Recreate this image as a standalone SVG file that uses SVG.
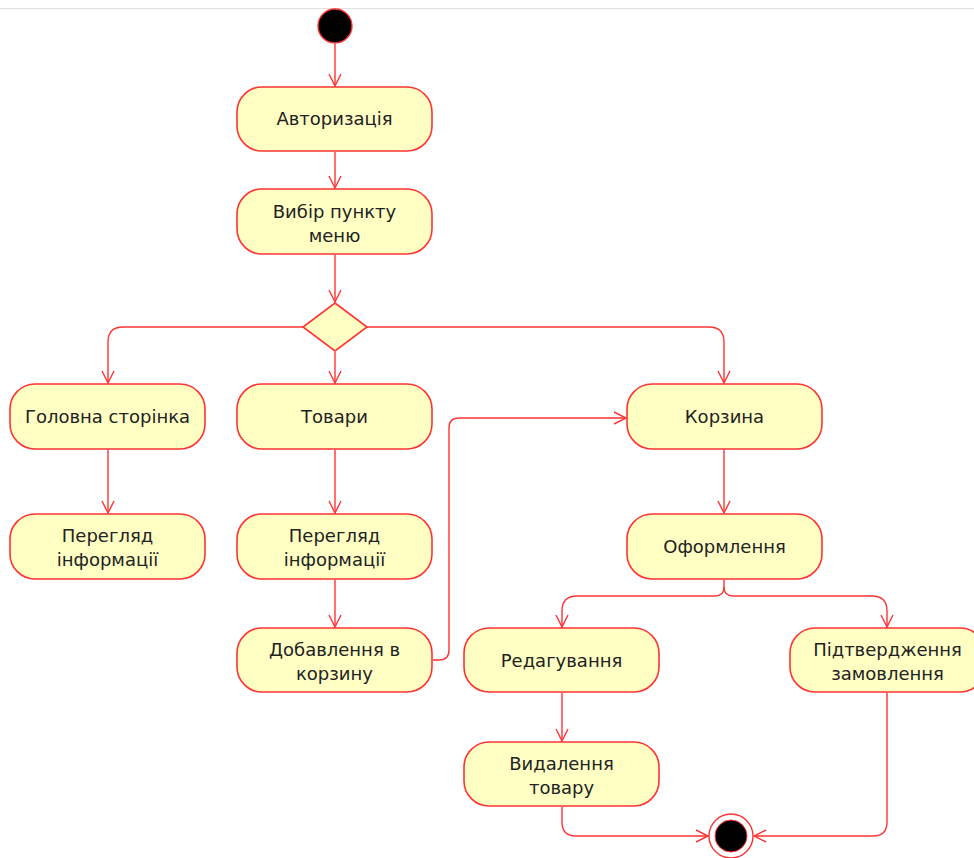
<svg xmlns="http://www.w3.org/2000/svg" width="974" height="858" viewBox="0 0 974 858">
<defs>
<style>
.n{fill:#ffffc4;stroke:#ff3333;stroke-width:1.6}
.t{font-family:"DejaVu Sans","Noto Sans",sans-serif;font-size:18px;fill:#222;text-anchor:middle}
.c{fill:none;stroke:#ff3333;stroke-width:1.4}
</style>
<marker id="a" markerWidth="16" markerHeight="16" refX="13" refY="7" orient="auto" markerUnits="userSpaceOnUse">
<path d="M1,1 L13,7 L1,13" fill="none" stroke="#ff3333" stroke-width="1.4"/>
</marker>
</defs>
<rect width="974" height="858" fill="#fff"/>
<line x1="0" y1="8.5" x2="974" y2="8.5" stroke="#e0e0e0" stroke-width="1"/>
<g id="connectors">
<path class="c" d="M335,44 V86" marker-end="url(#a)"/>
<path class="c" d="M335,152 V188" marker-end="url(#a)"/>
<path class="c" d="M335,255 V302" marker-end="url(#a)"/>
<path class="c" d="M335,352 V383" marker-end="url(#a)"/>
<path class="c" d="M303,327 H123 Q108,327 108,342 V383" marker-end="url(#a)"/>
<path class="c" d="M367,327 H709 Q724,327 724,342 V383" marker-end="url(#a)"/>
<path class="c" d="M108,450 V513" marker-end="url(#a)"/>
<path class="c" d="M335,450 V513" marker-end="url(#a)"/>
<path class="c" d="M335,580 V627" marker-end="url(#a)"/>
<path class="c" d="M433,660 H439 Q449,660 449,650 V428 Q449,418 459,418 H626" marker-end="url(#a)"/>
<path class="c" d="M724,450 V513" marker-end="url(#a)"/>
<path class="c" d="M724,580 V587 Q724,596 715,596 H577 Q562,596 562,611 V627" marker-end="url(#a)"/>
<path class="c" d="M724,587 Q724,596 733,596 H872 Q887,596 887,611 V627" marker-end="url(#a)"/>
<path class="c" d="M562,693 V741" marker-end="url(#a)"/>
<path class="c" d="M562,807 V822 Q562,836 576,836 H708" marker-end="url(#a)"/>
<path class="c" d="M887,693 V822 Q887,836 873,836 H754" marker-end="url(#a)"/>
</g>
<g id="start"><circle cx="335" cy="26" r="17" fill="#000" stroke="#ff3333" stroke-width="1.4"/></g>
<g id="n1"><rect class="n" x="237" y="87" width="195" height="64" rx="25"/><text class="t" x="334.5" y="125">Авторизація</text></g>
<g id="n2"><rect class="n" x="237" y="189" width="195" height="65" rx="25"/><text class="t" x="334.5" y="218">Вибір пункту</text><text class="t" x="334.5" y="242">меню</text></g>
<g id="decision"><polygon class="n" points="335,303 367,327 335,351 303,327"/></g>
<g id="n3"><rect class="n" x="10" y="384" width="195" height="65" rx="25"/><text class="t" x="107.5" y="423">Головна сторінка</text></g>
<g id="n4"><rect class="n" x="10" y="514" width="195" height="65" rx="25"/><text class="t" x="107.5" y="542">Перегляд</text><text class="t" x="107.5" y="566">інформації</text></g>
<g id="n5"><rect class="n" x="237" y="384" width="195" height="65" rx="25"/><text class="t" x="334.5" y="423">Товари</text></g>
<g id="n6"><rect class="n" x="237" y="514" width="195" height="65" rx="25"/><text class="t" x="334.5" y="542">Перегляд</text><text class="t" x="334.5" y="566">інформації</text></g>
<g id="n7"><rect class="n" x="237" y="628" width="195" height="64" rx="25"/><text class="t" x="334.5" y="656">Добавлення в</text><text class="t" x="334.5" y="680">корзину</text></g>
<g id="n8"><rect class="n" x="627" y="384" width="195" height="65" rx="25"/><text class="t" x="724.5" y="423">Корзина</text></g>
<g id="n9"><rect class="n" x="627" y="514" width="195" height="65" rx="25"/><text class="t" x="724.5" y="553">Оформлення</text></g>
<g id="n10"><rect class="n" x="464" y="628" width="195" height="64" rx="25"/><text class="t" x="561.5" y="667">Редагування</text></g>
<g id="n11"><rect class="n" x="790" y="628" width="195" height="64" rx="25"/><text class="t" x="887.5" y="656">Підтвердження</text><text class="t" x="887.5" y="680">замовлення</text></g>
<g id="n12"><rect class="n" x="464" y="742" width="195" height="64" rx="25"/><text class="t" x="561.5" y="770">Видалення</text><text class="t" x="561.5" y="794">товару</text></g>
<g id="end"><circle cx="731" cy="836" r="22" fill="#fff" stroke="#ff3333" stroke-width="1.4"/><circle cx="731" cy="836" r="16" fill="#000" stroke="#ff3333" stroke-width="1"/></g>
</svg>
